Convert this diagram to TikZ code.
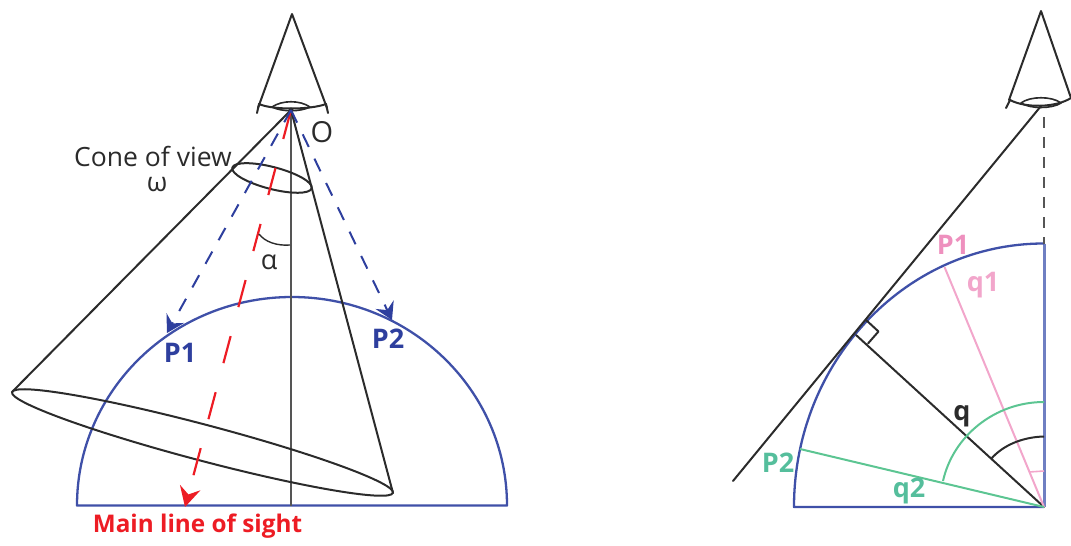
\documentclass[tikz,border=0pt]{standalone}
\usepackage{fontspec}
\setmainfont{Open Sans}
\usetikzlibrary{arrows.meta}
\definecolor{inkk}{HTML}{2B2B2B}
\definecolor{axisg}{HTML}{555555}
\definecolor{bl}{HTML}{3F50A8}
\definecolor{bld}{HTML}{2E3F9E}
\definecolor{blv}{HTML}{6F7FC2}
\definecolor{rd}{HTML}{ED1C24}
\definecolor{pk}{HTML}{F2A6CB}
\definecolor{pkt}{HTML}{EE90BE}
\definecolor{gr}{HTML}{5CC592}
\definecolor{grt}{HTML}{55BE9C}
\tikzset{
  ln/.style={draw=inkk,line width=2pt,line join=round,line cap=round},
  thin ln/.style={draw=inkk,line width=1.4pt},
  bluedash/.style={draw=bld,line width=2pt,dash pattern=on 14pt off 13pt,-{Stealth[length=17pt,width=20pt,inset=6pt]}},
  reddash/.style={draw=rd,line width=2.2pt,dash pattern=on 28pt off 30pt,-{Stealth[length=20pt,width=21pt,inset=7pt]}},
  lab/.style={inner sep=0pt,text=inkk,font=\fontsize{26.5}{26.5}\selectfont},
  blab/.style={inner sep=0pt,font=\fontsize{27}{27}\selectfont\bfseries},
}
\begin{document}
\begin{tikzpicture}[x=1pt,y=-1pt]
\useasboundingbox (0,0) rectangle (1071,546);
% named points, left
\coordinate (LO) at (291,110);
\coordinate (Lapex) at (292,14);
\coordinate (Lbl) at (258,108);
\coordinate (Lbr) at (327,108);
\coordinate (LtickL) at (257,113);
\coordinate (LtickR) at (328,113);
\coordinate (Lbig) at (202.5,442.5);
\coordinate (Lsmall) at (272,178);
\coordinate (Lbase) at (291,505.5);
\coordinate (LA) at (77,505.5);
\coordinate (LB) at (507,505.5);
\coordinate (Lcl) at (12,392);
\coordinate (Lcr) at (393,493);
\coordinate (Lt1) at (167,333);
\coordinate (Lt2) at (392,320);
\coordinate (Lred) at (185,507);
% semicircle
\draw[bl,line width=2.3pt,line join=round] (LA) arc[start angle=180,end angle=360,x radius=215,y radius=208.5] -- cycle;
% axis
\draw[axisg,line width=2.3pt] (LO) -- (Lbase);
% cone
\draw[ln] (Lcl) -- (LO) -- (Lcr);
\draw[ln,rotate around={-14.8:(Lbig)}] (Lbig) ellipse[x radius=197,y radius=18];
\draw[ln,rotate around={-14.5:(Lsmall)}] (Lsmall) ellipse[x radius=41,y radius=11];
% eye left
\draw[ln] (Lbl) -- (Lapex) -- (Lbr);
\draw[ln] (LtickL) -- (259,104) .. controls (272,110) and (310,110) .. (326,104) -- (LtickR);
\draw[ln,line width=1.6pt] (272,107) .. controls (282,100) and (300,100) .. (310,107) .. controls (300,112) and (282,112) .. cycle;
\fill[inkk] (LO) circle (2.5);
% sight lines
\draw[reddash,dash phase=-2pt] (LO) -- (Lred);
\draw[bluedash] (LO) -- (Lt1);
\draw[bluedash] (LO) -- (Lt2);
% alpha arc
\draw[thin ln] (259,234) .. controls (265,242) and (277,246) .. (290,245);
% labels, left
\node[lab,font=\fontsize{29}{29}\selectfont] (tO) at (322,132) {O};
\node[lab] (tCone) at (153,156) {Cone of view};
\node[lab] (tOm) at (157,185) {ω};
\node[lab,font=\fontsize{27}{27}\selectfont] (tAl) at (269,262) {α};
\node[blab,text=bld] (tP1) at (180,353) {P1};
\node[blab,text=bld] (tP2) at (388,339) {P2};
\node[blab,text=rd,font=\fontsize{24.3}{24.3}\selectfont\bfseries] (tMain) at (197.5,526) {Main line of sight};
% named points, right
\coordinate (RO) at (1041,106);
\coordinate (Rapex) at (1041,11);
\coordinate (Rbl) at (1009,100);
\coordinate (Rbr) at (1071,98);
\coordinate (Rtick) at (1006,108);
\coordinate (Rtan) at (733,481);
\coordinate (Rc) at (1044,507);
\coordinate (Rtop) at (1044,243.5);
\coordinate (Rleft) at (794,507);
\coordinate (Rdash) at (1044,117);
\coordinate (Rq) at (856,335);
\coordinate (Rp1) at (944.5,267);
\coordinate (Rp2) at (800,449);
% quarter circle
\draw[blv,line width=3pt] (Rtop) -- (Rc);
\draw[bl,line width=2.3pt,line join=round] (Rtop) arc[start angle=270,end angle=180,x radius=250,y radius=263.5] -- (Rc);
\draw[axisg,line width=2.4pt,dash pattern=on 10.5pt off 9.5pt] (Rdash) -- (Rtop);
% tangent and radius
\draw[ln] (Rtan) -- (RO);
\draw[ln] (Rq) -- (Rc);
\draw[ln] (866,320) -- (878.5,331.5) -- (868,343.5);
\draw[pk,line width=2pt] (Rc) -- (Rp1);
\draw[gr,line width=2pt] (Rc) -- (Rp2);
% angle arcs
\draw[gr,line width=2pt] (943,481) .. controls (953,436) and (995,402) .. (1044,402);
\draw[ln,line cap=butt] (991,459) .. controls (1003,445) and (1023,437) .. (1044,436.5);
\draw[pk,line width=1.6pt] (1029,472) -- (1044,471);
% eye right
\draw[ln] (Rbl) -- (Rapex) -- (Rbr);
\draw[ln] (Rtick) -- (1010,100) .. controls (1025,108) and (1055,108) .. (Rbr);
\draw[ln,line width=1.6pt] (1021,103) .. controls (1030,96) and (1052,96) .. (1061,103) .. controls (1052,109) and (1030,109) .. cycle;
% labels, right
\node[blab,text=pkt] (rP1) at (953,245) {P1};
\node[blab,text=pk] (rq1) at (983,285) {q1};
\node[blab,text=inkk] (rq) at (962,416) {q};
\node[blab,text=grt] (rq2) at (909,491) {q2};
\node[blab,text=grt] (rP2) at (778,463) {P2};
\end{tikzpicture}
\end{document}
